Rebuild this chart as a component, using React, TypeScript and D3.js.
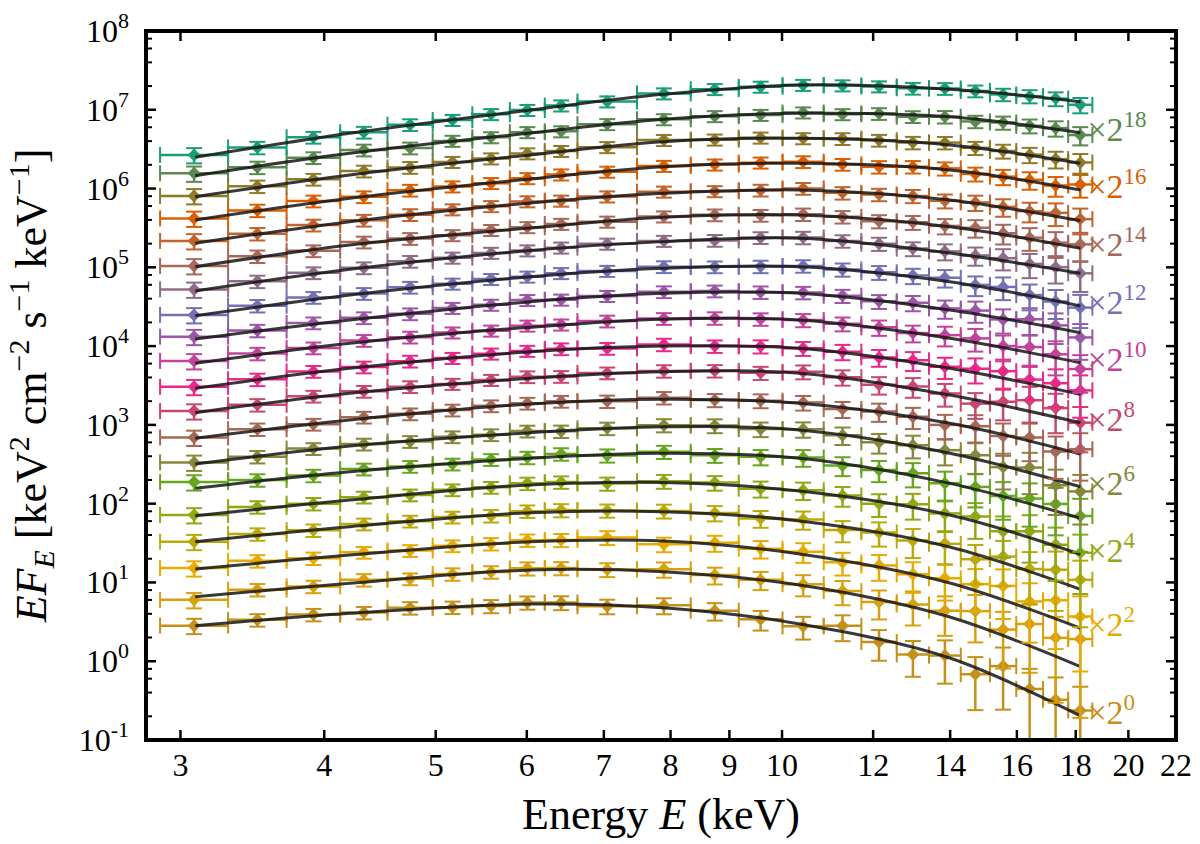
import { useRef, useEffect } from "react";
import * as d3 from "d3";

// Stacked X-ray spectra (EF_E vs E), each scaled by 2^i, with best-fit model curves.

const W = 1200;
const H = 844;
const FONT = "'Liberation Serif', 'DejaVu Serif', serif";

// Energy bin edges (keV), shared by all spectra
const binEdges = [
  2.88, 3.3, 3.71, 4.13, 4.54, 4.97, 5.38, 5.8, 6.22, 6.64, 7.48, 8.33, 9.17, 10.01,
  10.87, 11.72, 12.58, 13.42, 14.3, 15.16, 15.98, 16.86, 17.73, 18.61,
];

// Scale exponent of each spectrum (bottom to top) and which ones are labelled
const scaleExponents = [0, 1, 2, 3, 4, 5, 6, 7, 8, 9, 10, 11, 12, 13, 14, 15, 16, 17, 18, 19];
const labelledExponents = [0, 2, 4, 6, 8, 10, 12, 14, 16, 18];

const seriesColors = [
  "#c4901a", "#d9a00e", "#e6ab02", "#bba90c", "#91a815", "#66a61e", "#86873a",
  "#a66854", "#c7486f", "#e7298a", "#c1439a", "#9b56a6", "#7570b3", "#8e6c87",
  "#a7685a", "#c0632e", "#d95f02", "#8f7a2c", "#5a8950", "#1b9e77",
];

// Measured EF_E (already multiplied by 2^i), one row per spectrum, one value per bin
const fluxData = [
  [2.83, 3.35, 3.91, 4.14, 4.76, 4.84, 5.02, 5.57, 5.56, 4.99, 5.12, 4.37, 3.4, 2.77, 2.81, 1.75, 1.22, 1.18, 0.684, 0.867, 0.445, 0.324, 0.237],
  [6.01, 8.09, 8.91, 10.8, 11.1, 12.8, 13.6, 15.1, 15.2, 14.6, 14.7, 12.4, 10.8, 9.51, 7.78, 5.65, 5.26, 4.38, 4.33, 2.52, 2.97, 1.98, 1.91],
  [15.2, 18.8, 20.3, 24.1, 25.4, 29.2, 31.0, 34.4, 34.6, 37.3, 30.6, 31.8, 26.8, 24.6, 18.0, 16.4, 12.7, 11.3, 9.53, 9.04, 5.74, 5.94, 3.7],
  [32.9, 41.2, 46.1, 55.2, 60.0, 67.5, 70.3, 80.4, 82.8, 81.9, 80.9, 76.4, 65.0, 63.1, 46.2, 43.2, 34.0, 30.9, 19.7, 21.3, 14.8, 14.5, 10.8],
  [71.9, 91.0, 100, 121, 129, 150, 161, 181, 188, 180, 193, 185, 155, 148, 127, 99.8, 98.0, 75.2, 68.7, 44.7, 44.6, 30.1, 23.8],
  [188, 200, 228, 275, 297, 318, 363, 386, 428, 410, 456, 412, 393, 386, 306, 268, 244, 182, 163, 125, 116, 99.1, 69.8],
  [334, 395, 500, 570, 615, 706, 750, 834, 830, 904, 993, 980, 885, 881, 741, 600, 552, 478, 412, 291, 287, 171, 143],
  [692, 881, 1019, 1253, 1380, 1542, 1746, 1884, 1991, 1995, 2213, 2070, 2032, 1923, 1589, 1476, 1265, 1000, 962, 723, 692, 459, 490],
  [1496, 1799, 2312, 2667, 3055, 3311, 3715, 4083, 4120, 4571, 4842, 4864, 4581, 4732, 4036, 3228, 3069, 2506, 1862, 1968, 2056, 1633, 1067],
  [3048, 3784, 4775, 5433, 6442, 7063, 8017, 8690, 9247, 9354, 10500, 10000, 9950, 9376, 8492, 7194, 6607, 5470, 5164, 4808, 3758, 3381, 2742],
  [6486, 8054, 9484, 11800, 13000, 14860, 15700, 18160, 18750, 20800, 22390, 22750, 22080, 21430, 19230, 17300, 14660, 13770, 12530, 10020, 9727, 7870, 5117],
  [13180, 15780, 19720, 22910, 25700, 30480, 33420, 38370, 38820, 43250, 48980, 50120, 48420, 47860, 43550, 36980, 35480, 30060, 28250, 21830, 21930, 18320, 12880],
  [2.489e4, 3.258e4, 4.15e4, 4.656e4, 5.585e4, 6.194e4, 7.096e4, 7.603e4, 8.433e4, 8.995e4, 1.019e5, 1.014e5, 1.028e5, 1.042e5, 9.397e4, 8.65e4, 7.852e4, 7.379e4, 5.984e4, 5.636e4, 4.446e4, 3.681e4, 3.083e4],
  [5.248e4, 6.637e4, 8.531e4, 9.863e4, 1.191e5, 1.324e5, 1.524e5, 1.637e5, 1.778e5, 1.991e5, 2.163e5, 2.198e5, 2.382e5, 2.393e5, 2.163e5, 1.995e5, 1.73e5, 1.592e5, 1.416e5, 1.306e5, 1.104e5, 1.005e5, 8.395e4],
  [1.042e5, 1.384e5, 1.622e5, 2.094e5, 2.323e5, 2.553e5, 2.972e5, 3.228e5, 3.556e5, 3.793e5, 4.416e5, 4.634e5, 4.571e5, 4.721e5, 4.385e5, 3.855e5, 3.733e5, 3.357e5, 3.177e5, 2.71e5, 2.382e5, 2.056e5, 1.959e5],
  [2.163e5, 2.673e5, 3.436e5, 3.963e5, 4.667e5, 5.433e5, 5.97e5, 6.871e5, 7.015e5, 7.925e5, 9.12e5, 9.247e5, 9.55e5, 1.005e6, 8.831e5, 8.414e5, 8.054e5, 6.998e5, 6.653e5, 5.848e5, 5.164e5, 4.909e5, 4.093e5],
  [4.178e5, 5.284e5, 6.95e5, 7.87e5, 9.528e5, 1.062e6, 1.172e6, 1.352e6, 1.507e6, 1.633e6, 1.936e6, 2.014e6, 2.133e6, 2.193e6, 2.028e6, 1.888e6, 1.892e6, 1.803e6, 1.535e6, 1.416e6, 1.288e6, 1.094e6, 1.127e6],
  [8.07e5, 1.069e6, 1.312e6, 1.667e6, 1.854e6, 2.173e6, 2.41e6, 2.793e6, 2.992e6, 3.35e6, 4.121e6, 4.178e6, 4.426e6, 4.345e6, 4.305e6, 4.102e6, 3.837e6, 3.828e6, 3.289e6, 2.999e6, 2.692e6, 2.366e6, 2.143e6],
  [1.56e6, 1.858e6, 2.466e6, 3.083e6, 3.273e6, 4.027e6, 4.467e6, 5.188e6, 5.321e6, 6.561e6, 7.568e6, 8.279e6, 8.59e6, 9.226e6, 8.77e6, 8.954e6, 8.185e6, 8.166e6, 7.112e6, 6.887e6, 6.266e6, 5.848e6, 4.775e6],
  [2.673e6, 3.319e6, 4.477e6, 5.188e6, 6.471e6, 7.413e6, 8.79e6, 9.93e6, 1.132e7, 1.274e7, 1.611e7, 1.828e7, 1.959e7, 2.065e7, 2.037e7, 1.977e7, 1.875e7, 1.862e7, 1.734e7, 1.567e7, 1.489e7, 1.387e7, 1.156e7],
];

// Fractional 1-sigma errors for each measured point
const fluxErr = [
  [0.22, 0.18, 0.18, 0.18, 0.18, 0.18, 0.19, 0.19, 0.2, 0.21, 0.23, 0.25, 0.28, 0.32, 0.36, 0.42, 0.48, 0.56, 0.65, 0.72, 0.8, 0.92, 1.0],
  [0.22, 0.18, 0.18, 0.18, 0.17, 0.18, 0.18, 0.19, 0.19, 0.2, 0.22, 0.24, 0.26, 0.3, 0.34, 0.4, 0.46, 0.52, 0.6, 0.68, 0.76, 0.85, 0.9],
  [0.22, 0.18, 0.18, 0.17, 0.17, 0.17, 0.18, 0.18, 0.19, 0.2, 0.21, 0.23, 0.25, 0.28, 0.32, 0.36, 0.42, 0.48, 0.55, 0.62, 0.7, 0.76, 0.8],
  [0.22, 0.18, 0.18, 0.17, 0.17, 0.17, 0.18, 0.18, 0.19, 0.19, 0.2, 0.22, 0.24, 0.26, 0.3, 0.34, 0.4, 0.45, 0.52, 0.58, 0.64, 0.7, 0.75],
  [0.22, 0.18, 0.18, 0.17, 0.17, 0.17, 0.17, 0.18, 0.18, 0.19, 0.2, 0.21, 0.23, 0.25, 0.28, 0.32, 0.36, 0.42, 0.48, 0.54, 0.6, 0.65, 0.7],
  [0.22, 0.18, 0.18, 0.17, 0.17, 0.17, 0.17, 0.18, 0.18, 0.19, 0.19, 0.2, 0.22, 0.24, 0.27, 0.3, 0.34, 0.4, 0.45, 0.5, 0.56, 0.6, 0.65],
  [0.22, 0.18, 0.17, 0.17, 0.17, 0.17, 0.17, 0.17, 0.18, 0.18, 0.19, 0.2, 0.21, 0.22, 0.25, 0.28, 0.32, 0.36, 0.42, 0.48, 0.54, 0.58, 0.62],
  [0.22, 0.18, 0.17, 0.17, 0.17, 0.17, 0.17, 0.17, 0.17, 0.18, 0.18, 0.19, 0.2, 0.21, 0.23, 0.26, 0.3, 0.34, 0.38, 0.44, 0.5, 0.55, 0.6],
  [0.22, 0.18, 0.17, 0.17, 0.17, 0.16, 0.16, 0.17, 0.17, 0.17, 0.18, 0.18, 0.19, 0.2, 0.22, 0.25, 0.28, 0.32, 0.36, 0.42, 0.48, 0.52, 0.58],
  [0.22, 0.18, 0.17, 0.17, 0.17, 0.16, 0.16, 0.16, 0.17, 0.17, 0.18, 0.18, 0.19, 0.2, 0.22, 0.24, 0.27, 0.3, 0.35, 0.4, 0.45, 0.5, 0.55],
  [0.22, 0.18, 0.17, 0.17, 0.17, 0.16, 0.16, 0.16, 0.16, 0.17, 0.17, 0.18, 0.18, 0.19, 0.2, 0.22, 0.24, 0.28, 0.32, 0.36, 0.42, 0.46, 0.5],
  [0.22, 0.18, 0.17, 0.17, 0.17, 0.16, 0.16, 0.16, 0.16, 0.16, 0.17, 0.17, 0.18, 0.18, 0.19, 0.2, 0.22, 0.26, 0.3, 0.34, 0.38, 0.42, 0.48],
  [0.22, 0.18, 0.17, 0.17, 0.17, 0.16, 0.16, 0.16, 0.16, 0.16, 0.17, 0.17, 0.18, 0.18, 0.19, 0.2, 0.22, 0.25, 0.28, 0.32, 0.36, 0.4, 0.45],
  [0.22, 0.18, 0.17, 0.17, 0.17, 0.16, 0.16, 0.16, 0.16, 0.16, 0.16, 0.17, 0.17, 0.18, 0.18, 0.19, 0.2, 0.23, 0.26, 0.3, 0.34, 0.38, 0.42],
  [0.22, 0.18, 0.17, 0.17, 0.17, 0.16, 0.16, 0.16, 0.16, 0.16, 0.16, 0.17, 0.17, 0.18, 0.18, 0.19, 0.2, 0.22, 0.25, 0.28, 0.32, 0.36, 0.4],
  [0.22, 0.18, 0.17, 0.17, 0.17, 0.16, 0.16, 0.16, 0.16, 0.16, 0.16, 0.16, 0.17, 0.17, 0.18, 0.18, 0.19, 0.2, 0.22, 0.25, 0.28, 0.32, 0.36],
  [0.22, 0.18, 0.17, 0.17, 0.17, 0.16, 0.16, 0.16, 0.16, 0.16, 0.16, 0.16, 0.16, 0.17, 0.17, 0.18, 0.18, 0.19, 0.2, 0.22, 0.25, 0.28, 0.32],
  [0.22, 0.18, 0.17, 0.17, 0.17, 0.16, 0.16, 0.16, 0.16, 0.16, 0.16, 0.16, 0.16, 0.16, 0.17, 0.17, 0.18, 0.18, 0.19, 0.2, 0.22, 0.24, 0.28],
  [0.22, 0.18, 0.17, 0.17, 0.17, 0.16, 0.16, 0.16, 0.16, 0.16, 0.16, 0.16, 0.16, 0.16, 0.16, 0.17, 0.17, 0.18, 0.18, 0.19, 0.2, 0.22, 0.26],
  [0.22, 0.18, 0.17, 0.17, 0.17, 0.16, 0.16, 0.16, 0.16, 0.16, 0.16, 0.16, 0.16, 0.16, 0.16, 0.16, 0.17, 0.17, 0.17, 0.18, 0.19, 0.2, 0.22],
];

// Best-fit model read at a few energies (keV), one row per spectrum
const modelEnergies = [3.09, 4.21, 6.04, 7.88, 10.36, 13.99, 18.17];
const modelFlux = [
  [2.82, 4.06, 5.32, 4.78, 2.97, 1.1, 0.202],
  [6.59, 9.75, 14.4, 13.7, 9.28, 3.64, 0.852],
  [14.8, 22.3, 32.9, 33.6, 23.0, 9.84, 2.62],
  [32.9, 51.0, 76.8, 79.1, 60.3, 28.2, 8.18],
  [70.4, 111, 173, 185, 145, 71.8, 22.8],
  [157, 254, 377, 436, 377, 181, 65.2],
  [319, 540, 796, 948, 861, 436, 164],
  [675, 1153, 1841, 2110, 1879, 1047, 427],
  [1428, 2520, 3900, 4730, 4520, 2390, 1066],
  [2910, 5230, 8490, 10030, 9380, 5230, 2440],
  [6050, 10860, 17330, 21900, 21450, 12560, 6160],
  [12310, 21450, 36600, 46800, 46800, 28700, 14800],
  [2.43e4, 4.45e4, 7.6e4, 9.72e4, 1.019e5, 6.57e4, 3.23e4],
  [5.01e4, 9.44e4, 1.636e5, 2.12e5, 2.34e5, 1.52e5, 8.4e4],
  [1.019e5, 1.92e5, 3.16e5, 4.32e5, 4.62e5, 3.28e5, 1.744e5],
  [2.02e5, 3.8e5, 6.56e5, 8.71e5, 9.59e5, 7.15e5, 3.91e5],
  [3.99e5, 7.52e5, 1.322e6, 1.894e6, 2.09e6, 1.72e6, 9.59e5],
  [7.88e5, 1.486e6, 2.67e6, 3.93e6, 4.34e6, 3.57e6, 2.09e6],
  [1.456e6, 2.8e6, 5.07e6, 7.57e6, 9.02e6, 8.17e6, 5.12e6],
  [2.494e6, 5.028e6, 9.94e6, 1.572e7, 2.063e7, 1.819e7, 1.266e7],
];

const xTicks = [3, 4, 5, 6, 7, 8, 9, 10, 12, 14, 16, 18, 20, 22];
const yTicks = [1e-1, 1, 1e1, 1e2, 1e3, 1e4, 1e5, 1e6, 1e7, 1e8];
const yTickExps = ["-1", "0", "1", "2", "3", "4", "5", "6", "7", "8"];
const minorSubs = [2, 4, 6, 8];

export default function App() {
  const svgRef = useRef<SVGSVGElement>(null);

  useEffect(() => {
    if (!svgRef.current) return;
    const svg = d3.select(svgRef.current);
    svg.selectAll("*").remove();

    const m = { left: 146, right: 1176, top: 31, bottom: 740 };
    const x = d3.scaleLog().domain([2.8, 22]).range([m.left, m.right]);
    const y = d3.scaleLog().domain([0.1, 1e8]).range([m.bottom, m.top]);

    svg.append("defs").append("clipPath").attr("id", "plot-clip")
      .append("rect")
      .attr("x", m.left).attr("y", m.top)
      .attr("width", m.right - m.left).attr("height", m.bottom - m.top);

    const plot = svg.append("g").attr("clip-path", "url(#plot-clip)");
    const cap = 8;
    const r = 6.5;

    const modelLine = d3.line<[number, number]>()
      .x((d) => x(d[0])).y((d) => y(d[1]))
      .curve(d3.curveCatmullRom.alpha(0.5));

    scaleExponents.forEach((_, i) => {
      const color = seriesColors[i];
      const g = plot.append("g").attr("stroke", color).attr("fill", color);

      fluxData[i].forEach((v, j) => {
        const lo = binEdges[j];
        const hi = binEdges[j + 1];
        const cx = x(Math.sqrt(lo * hi));
        const cy = y(v);
        const f = fluxErr[i][j];
        const yTop = y(v * (1 + f));
        const yBot = y(Math.max(v * (1 - f), 1e-3));

        // x error bar with caps at bin edges
        g.append("line").attr("x1", x(lo)).attr("x2", x(hi)).attr("y1", cy).attr("y2", cy)
          .attr("stroke-width", 2.5);
        g.append("line").attr("x1", x(lo)).attr("x2", x(lo)).attr("y1", cy - cap).attr("y2", cy + cap)
          .attr("stroke-width", 2);
        g.append("line").attr("x1", x(hi)).attr("x2", x(hi)).attr("y1", cy - cap).attr("y2", cy + cap)
          .attr("stroke-width", 2);

        // y error bar
        g.append("line").attr("x1", cx).attr("x2", cx).attr("y1", yTop).attr("y2", yBot)
          .attr("stroke-width", 2.5);
        g.append("line").attr("x1", cx - cap).attr("x2", cx + cap).attr("y1", yTop).attr("y2", yTop)
          .attr("stroke-width", 2);
        g.append("line").attr("x1", cx - cap).attr("x2", cx + cap).attr("y1", yBot).attr("y2", yBot)
          .attr("stroke-width", 2);

        // diamond marker
        g.append("path")
          .attr("d", `M${cx},${cy - r}L${cx + r},${cy}L${cx},${cy + r}L${cx - r},${cy}Z`)
          .attr("stroke", "none");
      });

      const pts = modelEnergies.map((e, k) => [e, modelFlux[i][k]] as [number, number]);
      plot.append("path").datum(pts)
        .attr("fill", "none").attr("stroke", "#151515").attr("stroke-width", 3)
        .attr("stroke-opacity", 0.85).attr("stroke-linecap", "butt")
        .attr("d", modelLine);
    });

    // Scale labels at the right end of each even spectrum
    labelledExponents.forEach((p) => {
      const last = modelFlux[p][modelFlux[p].length - 1];
      const t = svg.append("text")
        .attr("x", x(binEdges[binEdges.length - 1]) - 5)
        .attr("y", y(last) + 8)
        .attr("fill", seriesColors[p])
        .attr("font-family", FONT).attr("font-size", 34);
      t.append("tspan").text("×2");
      t.append("tspan").attr("dy", -14).attr("font-size", 23).text(String(p));
    });

    // Ticks (inward, on all four sides)
    const axis = svg.append("g").attr("stroke", "#000");
    xTicks.forEach((v) => {
      axis.append("line").attr("x1", x(v)).attr("x2", x(v)).attr("y1", m.bottom).attr("y2", m.bottom - 10).attr("stroke-width", 2.5);
      axis.append("line").attr("x1", x(v)).attr("x2", x(v)).attr("y1", m.top).attr("y2", m.top + 10).attr("stroke-width", 2.5);
    });
    yTicks.forEach((v) => {
      axis.append("line").attr("x1", m.left).attr("x2", m.left + 10).attr("y1", y(v)).attr("y2", y(v)).attr("stroke-width", 2.5);
      axis.append("line").attr("x1", m.right).attr("x2", m.right - 10).attr("y1", y(v)).attr("y2", y(v)).attr("stroke-width", 2.5);
    });
    yTicks.slice(0, -1).forEach((v) => {
      minorSubs.forEach((s) => {
        const yy = y(v * s);
        axis.append("line").attr("x1", m.left).attr("x2", m.left + 6).attr("y1", yy).attr("y2", yy).attr("stroke-width", 2);
        axis.append("line").attr("x1", m.right).attr("x2", m.right - 6).attr("y1", yy).attr("y2", yy).attr("stroke-width", 2);
      });
    });

    // Frame
    svg.append("rect")
      .attr("x", m.left).attr("y", m.top)
      .attr("width", m.right - m.left).attr("height", m.bottom - m.top)
      .attr("fill", "none").attr("stroke", "#000").attr("stroke-width", 4);

    // Tick labels
    xTicks.forEach((v) => {
      svg.append("text")
        .attr("x", x(v)).attr("y", m.bottom + 36)
        .attr("text-anchor", "middle")
        .attr("font-family", FONT).attr("font-size", 32).attr("fill", "#000")
        .text(String(v));
    });
    yTicks.forEach((v, k) => {
      const t = svg.append("text")
        .attr("x", 129).attr("y", y(v) + 11)
        .attr("text-anchor", "end")
        .attr("font-family", FONT).attr("font-size", 32).attr("fill", "#000");
      t.append("tspan").text("10");
      t.append("tspan").attr("dy", -14).attr("font-size", 22).text(yTickExps[k]);
    });

    // Axis titles
    const xl = svg.append("text")
      .attr("x", (m.left + m.right) / 2).attr("y", 829)
      .attr("text-anchor", "middle")
      .attr("font-family", FONT).attr("font-size", 44).attr("fill", "#000");
    xl.append("tspan").text("Energy ");
    xl.append("tspan").attr("font-style", "italic").text("E");
    xl.append("tspan").text(" (keV)");

    const yl = svg.append("text")
      .attr("transform", `translate(46,${(m.top + m.bottom) / 2}) rotate(-90)`)
      .attr("text-anchor", "middle")
      .attr("font-family", FONT).attr("font-size", 44).attr("fill", "#000");
    yl.append("tspan").attr("font-style", "italic").text("EF");
    yl.append("tspan").attr("font-style", "italic").attr("font-size", 30).attr("dy", 8).text("E");
    yl.append("tspan").attr("dy", -8).text(" [keV");
    yl.append("tspan").attr("font-size", 30).attr("dy", -17).text("2");
    yl.append("tspan").attr("dy", 17).text(" cm");
    yl.append("tspan").attr("font-size", 30).attr("dy", -17).text("−2");
    yl.append("tspan").attr("dy", 17).text(" s");
    yl.append("tspan").attr("font-size", 30).attr("dy", -17).text("−1");
    yl.append("tspan").attr("dy", 17).text(" keV");
    yl.append("tspan").attr("font-size", 30).attr("dy", -17).text("−1");
    yl.append("tspan").attr("dy", 17).text("]");
  }, []);

  return (
    <div style={{ position: "fixed", left: 0, top: 0, width: W, height: H, background: "#fff" }}>
      <svg ref={svgRef} width={W} height={H} />
    </div>
  );
}
